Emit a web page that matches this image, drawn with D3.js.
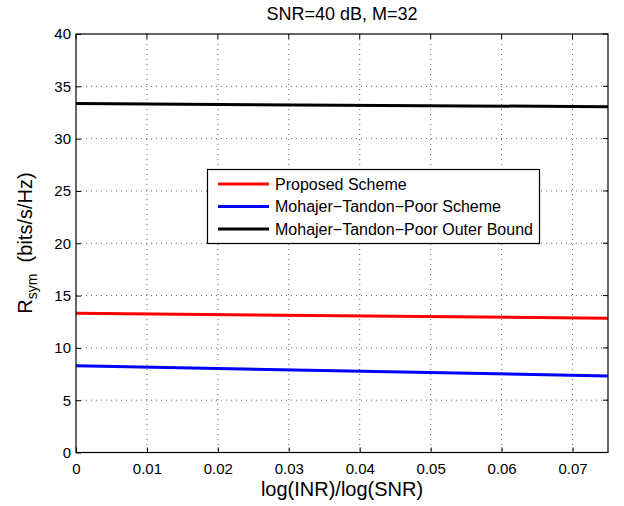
<!DOCTYPE html>
<html>
<head>
<meta charset="utf-8">
<script src="https://cdn.jsdelivr.net/npm/d3@7"></script>
<style>
  body { margin: 0; background: #fff; }
  text { font-family: "Liberation Sans", Arial, sans-serif; fill: #000; }
</style>
</head>
<body>
<div id="chart"></div>
<script>
// data
const xTicks = [0, 0.01, 0.02, 0.03, 0.04, 0.05, 0.06, 0.07];
const yTicks = [0, 5, 10, 15, 20, 25, 30, 35, 40];
const xs = [0, 0.075];
const proposed = [13.3, 12.83];
const mtpScheme = [8.3, 7.31];
const mtpOuter = [33.35, 33.05];
const seriesNames = ["Proposed Scheme", "Mohajer\u2212Tandon\u2212Poor Scheme", "Mohajer\u2212Tandon\u2212Poor Outer Bound"];
const seriesColors = ["#ff0000", "#0000ff", "#000000"];

const width = 624, height = 506;
const plotL = 76, plotR = 608, plotT = 34, plotB = 452.5;

const svg = d3.select("#chart").append("svg")
  .attr("width", width)
  .attr("height", height);

const x = d3.scaleLinear().domain([0, 0.075]).range([plotL, plotR]);
const y = d3.scaleLinear().domain([0, 40]).range([plotB, plotT]);

// grid
const grid = svg.append("g");
grid.selectAll(".gx").data(xTicks.filter(d => d > 0)).enter().append("line")
  .attr("x1", d => x(d)).attr("x2", d => x(d))
  .attr("y1", plotT).attr("y2", plotB)
  .attr("stroke", "#000").attr("stroke-width", 0.6)
  .attr("stroke-dasharray", "1,4");
grid.selectAll(".gy").data(yTicks.filter(d => d > 0 && d < 40)).enter().append("line")
  .attr("x1", plotL).attr("x2", plotR)
  .attr("y1", d => y(d)).attr("y2", d => y(d))
  .attr("stroke", "#000").attr("stroke-width", 0.6)
  .attr("stroke-dasharray", "1,4");

// data lines
const line = d3.line().x((d, i) => x(xs[i])).y(d => y(d));
[proposed, mtpScheme, mtpOuter].forEach((s, i) => {
  svg.append("path")
    .attr("d", line(s))
    .attr("fill", "none")
    .attr("stroke", seriesColors[i])
    .attr("stroke-width", 3);
});

// axes (ticks inward, box)
const xAxis = d3.axisBottom(x).tickValues(xTicks).tickSizeInner(-5).tickSizeOuter(0)
  .tickFormat(d => d === 0 ? "0" : d3.format(".2f")(d)).tickPadding(11);
const yAxis = d3.axisLeft(y).tickValues(yTicks).tickSizeInner(-5).tickSizeOuter(0).tickPadding(5);

const gx = svg.append("g").attr("transform", `translate(0,${plotB})`).call(xAxis);
const gy = svg.append("g").attr("transform", `translate(${plotL},0)`).call(yAxis);
[gx, gy].forEach(g => {
  g.select(".domain").remove();
  g.selectAll("text").style("font-size", "15px").style("font-family", "Liberation Sans, Arial, sans-serif");
  g.selectAll("line").attr("stroke", "#000");
});

// top and right ticks
svg.append("g").selectAll("line").data(xTicks).enter().append("line")
  .attr("x1", d => x(d)).attr("x2", d => x(d))
  .attr("y1", plotT).attr("y2", plotT + 5).attr("stroke", "#000");
svg.append("g").selectAll("line").data(yTicks).enter().append("line")
  .attr("x1", plotR).attr("x2", plotR - 5)
  .attr("y1", d => y(d)).attr("y2", d => y(d)).attr("stroke", "#000");

svg.append("rect")
  .attr("x", plotL).attr("y", plotT)
  .attr("width", plotR - plotL).attr("height", plotB - plotT)
  .attr("fill", "none").attr("stroke", "#000").attr("stroke-width", 1.2);

// title and labels
svg.append("text")
  .attr("x", (plotL + plotR) / 2).attr("y", 19.5)
  .attr("text-anchor", "middle").style("font-size", "18px")
  .text("SNR=40 dB, M=32");

svg.append("text")
  .attr("x", (plotL + plotR) / 2).attr("y", 496)
  .attr("text-anchor", "middle").style("font-size", "20px")
  .text("log(INR)/log(SNR)");

const yl = svg.append("text")
  .attr("transform", `translate(32,243) rotate(-90)`)
  .attr("text-anchor", "middle").style("font-size", "20px");
yl.append("tspan").text("R");
yl.append("tspan").attr("dy", 5).style("font-size", "14px").text("sym");
yl.append("tspan").attr("dy", -5).text("\u00a0\u00a0(bits/s/Hz)");

// legend
const lg = svg.append("g");
lg.append("rect")
  .attr("x", 207.5).attr("y", 169.5)
  .attr("width", 332).attr("height", 74)
  .attr("fill", "#fff").attr("stroke", "#000").attr("stroke-width", 1.2);
const rowY = [184, 206.5, 229];
seriesNames.forEach((name, i) => {
  lg.append("line")
    .attr("x1", 218).attr("x2", 269)
    .attr("y1", rowY[i]).attr("y2", rowY[i])
    .attr("stroke", seriesColors[i]).attr("stroke-width", 3);
  lg.append("text")
    .attr("x", 275).attr("y", rowY[i] + 5.5)
    .style("font-size", "16px")
    .text(name);
});
</script>
</body>
</html>
